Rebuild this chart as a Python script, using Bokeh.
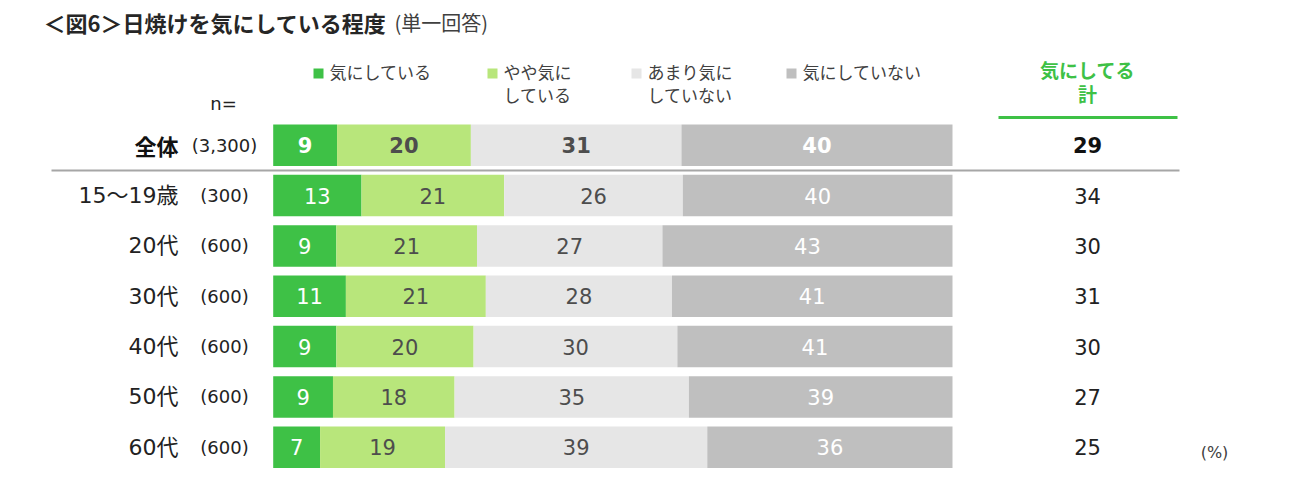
from bokeh.plotting import figure
from bokeh.models import Range1d
from bokeh.embed import file_html
from bokeh.resources import INLINE
from bokeh.core.properties import value
import numpy as np

groups = ["全体", "15～19歳", "20代", "30代", "40代", "50代", "60代"]
counts = ["(3,300)", "(300)", "(600)", "(600)", "(600)", "(600)", "(600)"]

# shares (%)
very = [9.4, 13.0, 9.3, 10.7, 9.3, 8.8, 6.9]
some = [19.7, 21.0, 20.7, 20.6, 20.2, 17.9, 18.4]
little = [31.0, 26.3, 27.3, 27.4, 30.0, 34.5, 38.6]
never = [39.9, 39.7, 42.7, 41.3, 40.5, 38.8, 36.1]

# printed labels
very_lbl = [9, 13, 9, 11, 9, 9, 7]
some_lbl = [20, 21, 21, 21, 20, 18, 19]
little_lbl = [31, 26, 27, 28, 30, 35, 39]
never_lbl = [40, 40, 43, 41, 41, 39, 36]
total_lbl = [29, 34, 30, 31, 30, 27, 25]

JP = value("Noto Sans CJK JP")
MIX = value("DejaVu Sans, Noto Sans CJK JP")
GREEN = "#3EC146"
colors = [GREEN, "#B8E67B", "#E6E6E6", "#BFBFBF"]
txt_colors = ["white", "#4D4D4D", "#4D4D4D", "white"]

W, H = 1284, 469
p = figure(width=W, height=H, x_range=Range1d(0, W), y_range=Range1d(H, 0),
           output_backend="svg", toolbar_location=None, min_border=0,
           x_axis_location=None, y_axis_location=None)
p.grid.visible = False
p.outline_line_color = None

# bar area: 0% -> x 272.7, 100% -> x 952; rows 50.35px apart starting at y 144.7
bx0, bx1 = 272.7, 952.0
ppx = (bx1 - bx0) / 100
p.extra_x_ranges = {"pct": Range1d(-bx0 / ppx, (W - bx0) / ppx)}
ry0, pitch = 144.7, 50.35
p.extra_y_ranges = {"row": Range1d((H - ry0) / pitch, -ry0 / pitch)}

rows = np.arange(len(groups))
shares = np.array([very, some, little, never])
labels = [very_lbl, some_lbl, little_lbl, never_lbl]
rights = np.cumsum(shares, axis=0)
lefts = rights - shares

for i in range(4):
    p.hbar(y=rows, left=lefts[i], right=rights[i], height=0.825, fill_color=colors[i],
           line_color=None, x_range_name="pct", y_range_name="row")
    mid = (lefts[i] + rights[i]) / 2
    p.text(x=mid[:1], y=rows[:1], text=[str(v) for v in labels[i][:1]],
           x_range_name="pct", y_range_name="row", text_align="center",
           text_baseline="middle", text_font=MIX, text_font_size="21px",
           text_font_style="bold", text_color=txt_colors[i])
    p.text(x=mid[1:], y=rows[1:], text=[str(v) for v in labels[i][1:]],
           x_range_name="pct", y_range_name="row", text_align="center",
           text_baseline="middle", text_font=MIX, text_font_size="21px",
           text_color=txt_colors[i])

# row labels and sample sizes
p.text(x=[178], y=rows[:1], text=groups[:1], y_range_name="row", text_align="right",
       text_baseline="middle", text_font=JP, text_font_size="22px",
       text_font_style="bold", text_color="#111111")
p.text(x=[178] * 6, y=rows[1:], text=groups[1:], y_range_name="row", text_align="right",
       text_baseline="middle", text_font=MIX, text_font_size="22px", text_color="#222222")
p.text(x=[224] * 7, y=rows, text=counts, y_range_name="row", text_align="center",
       text_baseline="middle", text_font=MIX, text_font_size="18px", text_color="#222222")

# totals column
p.text(x=[1087], y=rows[:1], text=[str(total_lbl[0])], y_range_name="row",
       text_align="center", text_baseline="middle", text_font=MIX,
       text_font_size="21px", text_font_style="bold", text_color="#111111")
p.text(x=[1087] * 6, y=rows[1:], text=[str(v) for v in total_lbl[1:]], y_range_name="row",
       text_align="center", text_baseline="middle", text_font=MIX,
       text_font_size="21px", text_color="#222222")

# separator under the total row
p.segment(x0=[51], y0=[0.5], x1=[1179], y1=[0.5], y_range_name="row",
          line_color="#A6A6A6", line_width=2)

# title
p.text(x=[43], y=[21], text=["＜図6＞日焼けを気にしている程度"], text_baseline="middle",
       text_font=JP, text_font_size="22px", text_font_style="bold", text_color="#262626")
p.text(x=[394], y=[22], text=["(単一回答)"], text_baseline="middle",
       text_font=JP, text_font_size="20px", text_color="#404040")

# legend
leg_x = [318, 492, 636, 791]
leg_txt = [["気にしている"], ["やや気に", "している"], ["あまり気に", "していない"], ["気にしていない"]]
for i in range(4):
    p.rect(x=[leg_x[i]], y=[73], width=10, height=10, fill_color=colors[i], line_color=None)
    for j, t in enumerate(leg_txt[i]):
        p.text(x=[leg_x[i] + 11], y=[71 + j * 23], text=[t],
               text_baseline="middle", text_font=JP, text_font_size="17px",
               text_color="#404040")

p.text(x=[223], y=[103], text=["n="], text_align="center", text_baseline="middle",
       text_font=MIX, text_font_size="18px", text_color="#222222")

# header of totals column
p.text(x=[1087, 1087], y=[69, 93], text=["気にしてる", "計"], text_align="center",
       text_baseline="middle", text_font=JP, text_font_size="19px",
       text_font_style="bold", text_color=GREEN)
p.segment(x0=[998], y0=[117], x1=[1177], y1=[117], line_color=GREEN, line_width=3)

p.text(x=[1214], y=[452], text=["(%)"], text_align="center", text_baseline="middle",
       text_font=MIX, text_font_size="16px", text_color="#404040")

open("out.html", "w").write(file_html(p, INLINE))
